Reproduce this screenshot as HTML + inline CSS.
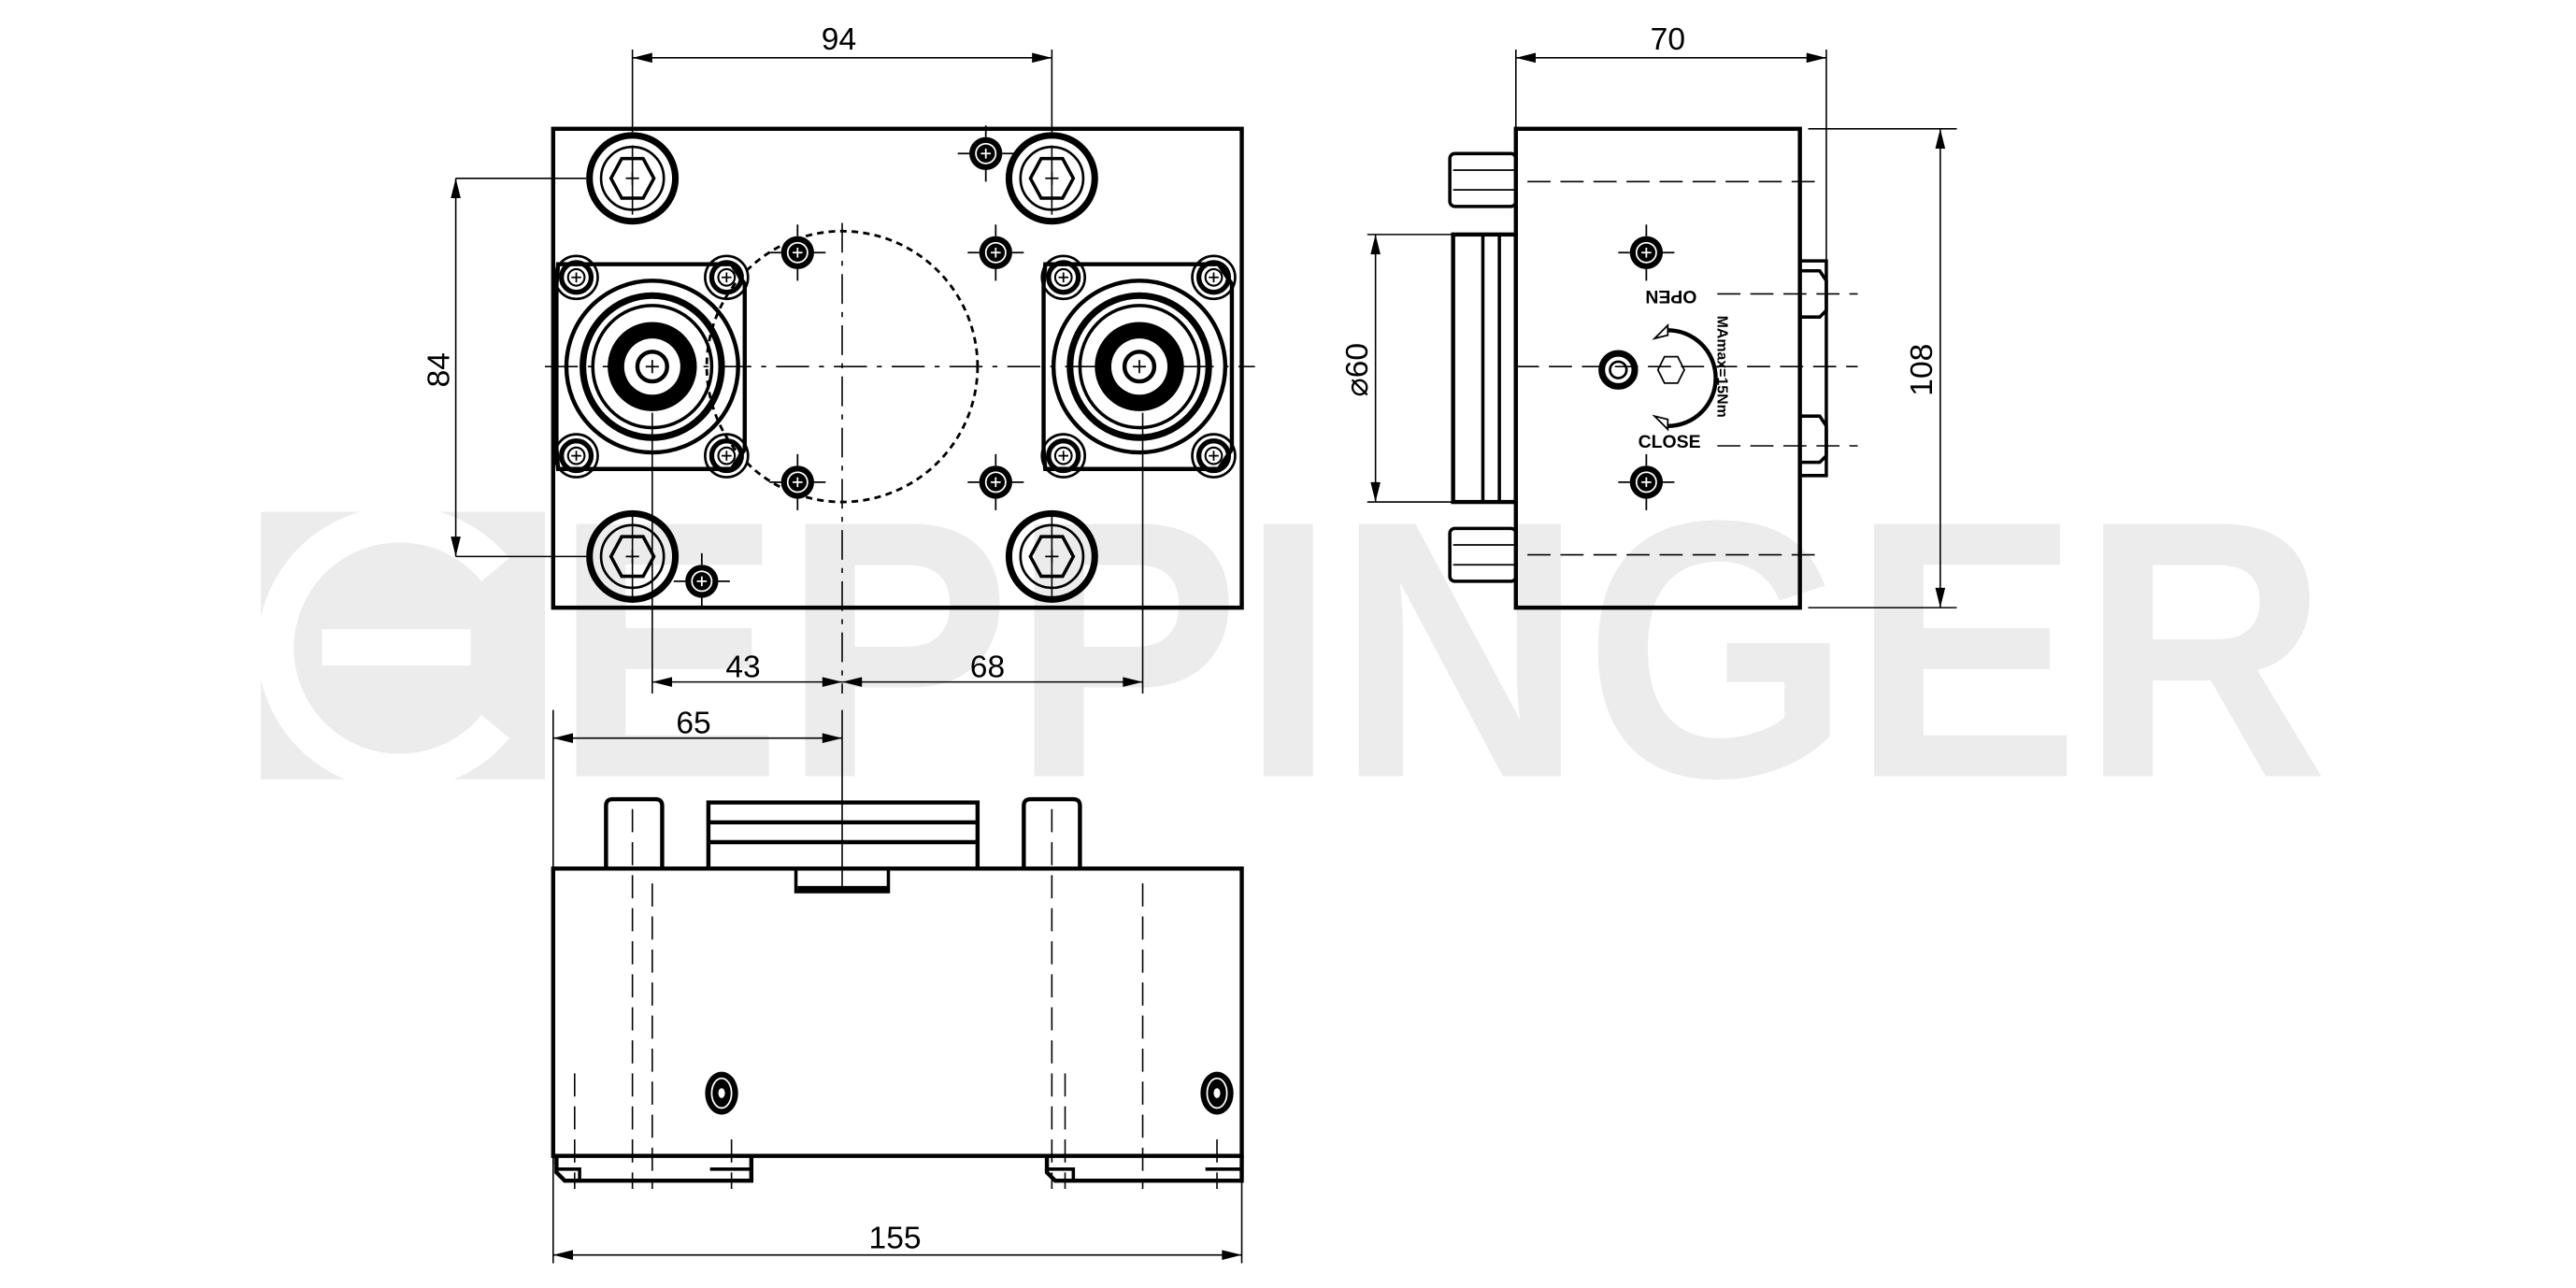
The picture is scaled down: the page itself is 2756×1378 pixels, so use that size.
<!DOCTYPE html>
<html><head><meta charset="utf-8"><style>
html,body{margin:0;padding:0;background:#fff;}
svg{display:block;}
text{font-family:"Liberation Sans",sans-serif;}
</style></head><body>
<svg width="2756" height="1378" viewBox="0 0 1560 780" xmlns="http://www.w3.org/2000/svg">
<defs>
<g id="bolt">
 <circle r="26" fill="none" stroke="#000" stroke-width="4"/>
 <circle r="19" fill="none" stroke="#000" stroke-width="1.5"/>
 <polygon points="-13,0 -6.5,-12 6.5,-12 13,0 6.5,12 -6.5,12" fill="none" stroke="#000" stroke-width="2"/>
 <path d="M-4,0H4M0,-4V4" stroke="#000" stroke-width="1"/>
</g>
<g id="screw">
 <circle r="10" fill="#000"/>
 <circle r="6" fill="none" stroke="#fff" stroke-width="1"/>
 <path d="M-3,0H3M0,-3V3" stroke="#fff" stroke-width="1"/>
 <path d="M-17,0H-10M10,0H17M0,-17V-10M0,10V17" stroke="#000" stroke-width="1"/>
</g>
<g id="cs">
 <circle r="9" fill="none" stroke="#000" stroke-width="3"/>
 <circle r="5" fill="none" stroke="#000" stroke-width="1.2"/>
 <path d="M-3,0H3M0,-3V3" stroke="#000" stroke-width="1"/>
</g>
<g id="conn">
 <path d="M-57,-62H48L56,-50V50L48,62H-57L-58,50V-50Z" fill="none" stroke="#000" stroke-width="2.5"/>
 <use href="#cs" x="-46" y="-54"/><use href="#cs" x="45" y="-54"/>
 <use href="#cs" x="-46" y="54"/><use href="#cs" x="45" y="54"/>
 <circle r="13" cx="-46" cy="-54" fill="none" stroke="#000" stroke-width="1.5"/>
 <circle r="13" cx="45" cy="-54" fill="none" stroke="#000" stroke-width="1.5"/>
 <circle r="13" cx="-46" cy="54" fill="none" stroke="#000" stroke-width="1.5"/>
 <circle r="13" cx="45" cy="54" fill="none" stroke="#000" stroke-width="1.5"/>
 <ellipse rx="52" ry="52" fill="none" stroke="#000" stroke-width="2.5"/>
 <ellipse rx="42" ry="43" fill="none" stroke="#000" stroke-width="4"/>
 <ellipse rx="36" ry="37" fill="none" stroke="#000" stroke-width="2"/>
 <circle r="27" fill="#000"/>
 <circle r="17" fill="#fff"/>
 <circle r="9" fill="none" stroke="#000" stroke-width="2.5"/>
 <path d="M-4,0H4M0,-4V4" stroke="#000" stroke-width="1"/>
</g>
</defs>

<!-- watermark -->
<g fill="#ececec">
 <rect x="158" y="310" width="172" height="162"/>
 <text x="335" y="470" font-size="222" font-weight="bold" textLength="1075" lengthAdjust="spacingAndGlyphs">EPPINGER</text>
</g>
<g fill="none" stroke="#fff" stroke-width="22">
 <path d="M300,345 A75,75 0 1 0 300,440"/>
 <path d="M195,392H285"/>
</g>

<g fill="none" stroke="#000">
<!-- TOP VIEW -->
<rect x="335" y="78" width="417" height="290" stroke-width="2.5"/>
<g stroke-width="0.9" stroke-dasharray="20,6,3,6">
 <path d="M330,222H760"/>
</g>
<path d="M510,135V420" stroke-width="0.9" stroke-dasharray="18,5,3,5"/>
<circle cx="510" cy="222" r="82" stroke-width="1.6" stroke-dasharray="4,3"/>
<g stroke-width="0.9">
 <path d="M383,30V80M637,30V80M383,88V130M637,88V130M276,108H355M276,337H355"/>
 <path d="M395,250V420M692,250V420M383,310V365M637,310V365"/>
 <path d="M383,35H637M276,108V337M395,413H692M335,447H510"/>
 <path d="M335,430V705M510,430V540"/>
 <path d="M335,700V765M752,700V765M335,760H752"/>
</g>
<g fill="#000" stroke="none">
 <path d="M383,35l12,-3v6z M637,35l-12,-3v6z"/>
 <path d="M276,108l-3,12h6z M276,337l-3,-12h6z"/>
 <path d="M395,413l12,-3v6z M510,413l-12,-3v6z M510,413l12,-3v6z M692,413l-12,-3v6z"/>
 <path d="M335,447l12,-3v6z M510,447l-12,-3v6z"/>
 <path d="M335,760l12,-3v6z M752,760l-12,-3v6z"/>
</g>
</g>
<use href="#bolt" x="383" y="108"/><use href="#bolt" x="637" y="108"/>
<use href="#bolt" x="383" y="337"/><use href="#bolt" x="637" y="337"/>
<use href="#conn" x="395" y="222"/><use href="#conn" x="690" y="222"/>
<use href="#screw" x="483" y="153"/><use href="#screw" x="483" y="292"/>
<use href="#screw" x="603" y="153"/><use href="#screw" x="603" y="292"/>
<use href="#screw" x="597" y="93"/><use href="#screw" x="425" y="352"/>

<g font-size="19" text-anchor="middle" fill="#000">
 <text x="508" y="30">94</text>
 <text x="1010" y="30">70</text>
 <text x="450" y="410">43</text>
 <text x="598" y="410">68</text>
 <text x="420" y="444">65</text>
 <text x="542" y="756">155</text>
 <text transform="translate(272,224) rotate(-90)">84</text>
 <text transform="translate(828,224) rotate(-90)">⌀60</text>
 <text transform="translate(1170,224) rotate(-90)">108</text>
</g>

<!-- SIDE VIEW -->
<g fill="none" stroke="#000">
<rect x="918" y="78" width="172" height="290" stroke-width="2.5"/>
<rect x="878" y="93" width="40" height="32" rx="3" stroke-width="2"/>
<rect x="878" y="320" width="40" height="32" rx="3" stroke-width="2"/>
<path d="M880,103H918M880,115H918M880,330H918M880,342H918" stroke-width="1"/>
<rect x="880" y="142" width="38" height="162" stroke-width="2.5"/>
<path d="M898,142V304M908,142V304" stroke-width="2"/>
<path d="M1090,158H1106V288H1090" stroke-width="2"/>
<path d="M1090,164H1102L1106,170V188L1102,192H1090M1090,252H1102L1106,258V276L1102,280H1090" stroke-width="2"/>
<g stroke-width="0.9" stroke-dasharray="14,6">
 <path d="M925,110H1100M925,336H1100M1040,178H1125M1040,270H1125M918,222H1125"/>
</g>
<g stroke-width="0.9">
 <path d="M918,30V78M1106,30V158M918,35H1106M1095,78H1185M1095,368H1185M1175,78V368M828,142H880M828,304H880M833,142V304"/>
</g>
<g fill="#000" stroke="none">
 <path d="M918,35l12,-3v6z M1106,35l-12,-3v6z"/>
 <path d="M1175,78l-3,12h6z M1175,368l-3,-12h6z"/>
 <path d="M833,142l-3,12h6z M833,304l-3,-12h6z"/>
</g>
<circle cx="980" cy="224" r="10" stroke-width="4"/>
<circle cx="980" cy="224" r="5" stroke-width="1.5"/>
<polygon points="1004,224 1008,216 1016,216 1020,224 1016,232 1008,232" stroke-width="1"/>
<path d="M1010,200 A26,26 0 0 1 1010,258" stroke-width="2.5"/>
<path d="M1002,205l8,-8l0,6z M1002,252l8,8l0,-6z" stroke-width="1" fill="#fff"/>
</g>
<use href="#screw" x="997" y="153"/><use href="#screw" x="997" y="292"/>
<g font-size="11" font-weight="bold" fill="#000" text-anchor="middle">
 <text transform="translate(1012,176) rotate(180)">OPEN</text>
 <text x="1011" y="271">CLOSE</text>
 <text transform="translate(1040,222) rotate(90)" font-size="9">MAmax=15Nm</text>
</g>

<!-- BOTTOM VIEW -->
<g fill="none" stroke="#000">
<rect x="335" y="526" width="417" height="174" stroke-width="2.5"/>
<path d="M367,526V488Q367,484 371,484H397Q401,484 401,488V526" stroke-width="2.5"/>
<path d="M620,526V488Q620,484 624,484H650Q654,484 654,488V526" stroke-width="2.5"/>
<path d="M429,526V486H592V526" stroke-width="2.5"/>
<path d="M429,498H592M429,510H592" stroke-width="2.5"/>
<path d="M429,526H482V540H538V526" stroke-width="2"/>
<path d="M483,538H538" stroke-width="3"/>
<path d="M337,700V710L342,715H455V700M634,700V710L639,715H752V700" stroke-width="2.5"/>
<path d="M337,708H351V714M430,708H455M634,708H650V714M730,708H752" stroke-width="2"/>
<g stroke-width="0.9" stroke-dasharray="14,6">
 <path d="M383,490V720M395,535V720M637,490V720M692,535V720M348,650V720M443,690V720M645,650V720M737,690V720"/>
</g>
</g>
<g>
 <ellipse cx="437" cy="662" rx="10" ry="13" fill="#000"/>
 <ellipse cx="437" cy="662" rx="6" ry="9" fill="none" stroke="#fff" stroke-width="1"/>
 <ellipse cx="437" cy="662" rx="2" ry="3" fill="#fff"/>
 <ellipse cx="737" cy="662" rx="10" ry="13" fill="#000"/>
 <ellipse cx="737" cy="662" rx="6" ry="9" fill="none" stroke="#fff" stroke-width="1"/>
 <ellipse cx="737" cy="662" rx="2" ry="3" fill="#fff"/>
</g>
</svg>
</body></html>
